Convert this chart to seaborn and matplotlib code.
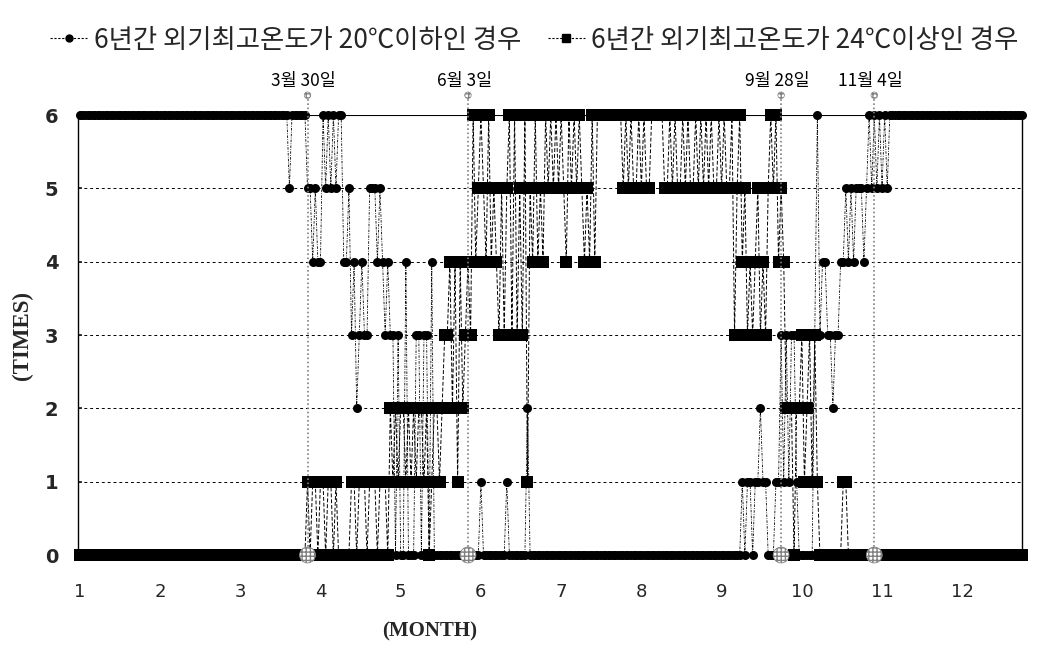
import matplotlib
matplotlib.use('Agg')
import matplotlib.pyplot as plt
from matplotlib.lines import Line2D
import numpy as np
import pandas as pd
import seaborn as sns

# daily counts (out of 6 years), one string per calendar month
cold_months = [
    "6666666666666666666666666666666",            # 1
    "6666666666666666666666666666",               # 2
    "6666666666666666666666566666655",            # 3
    "454465656566445342343355545434",             # 4
    "3303004000330330400000000000000",            # 5
    "000010000000001000000020000000",             # 6
    "0000000000000000000000000000000",            # 7
    "0000000000000000000000000000000",            # 8
    "000000000000010110112110001131",             # 9
    "3133100000036344332334454545554",            # 10
    "565656565666666666666666666666",             # 11
    "6666666666666666666666666666666",            # 12
]
hot_months = [
    "0000000000000000000000000000000",
    "0000000000000000000000000000",
    "0000000000000000000000000000010",
    "110110110100000110111011101110",
    "2121221212122120122123342414234",
    "364565464543535636353615464546",
    "5656565465656545464666666666656",
    "5655656556666655656556565565656",
    "565565655635645343453435656454",
    "2220223123131000000000110000000",
    "000000000000000000000000000000",
    "0000000000000000000000000000000",
]

month_labels = [str(m) for m in range(1, 13)]
tick_days = [1, 32, 63, 94, 125, 156, 187, 218, 249, 280, 311, 342]
mark_labels = ['3월 30일', '6월 3일', '9월 28일', '11월 4일']
mark_days = [89, 151, 272, 308]
series_labels = ['6년간 외기최고온도가 20℃이하인 경우', '6년간 외기최고온도가 24℃이상인 경우']

cold = [int(c) for c in ''.join(cold_months)]
hot = [int(c) for c in ''.join(hot_months)]
days = np.arange(1, len(cold) + 1)
df = pd.DataFrame({'day': days, 'cold': cold, 'hot': hot})

sns.set_theme(style='white')
plt.rcParams['font.family'] = ['Noto Sans CJK KR', 'DejaVu Sans']

fig = plt.figure(figsize=(10.48, 6.48), dpi=100)
ax = fig.add_axes([0.0744, 0.1435, 0.9006, 0.679])

# grid
for y in range(1, 6):
    ax.axhline(y, color='black', lw=0.7, ls=(0, (3, 3)), zorder=0)
ax.axhline(6, color='black', lw=0.8, zorder=0)

sns.lineplot(data=df, x='day', y='hot', ax=ax, color='black', marker='s',
             markersize=8.5, markeredgewidth=0, lw=0.7, linestyle=(0, (4, 2)),
             estimator=None, clip_on=False, zorder=3, legend=False)
sns.lineplot(data=df, x='day', y='cold', ax=ax, color='black', marker='o',
             markersize=6.5, markeredgewidth=0, lw=0.6,
             linestyle=(0, (3, 1.5, 1, 1.5)), estimator=None, clip_on=False,
             zorder=4, legend=False)

# date markers
ax.vlines(mark_days, 0, 6.27, colors='gray', linestyles=(0, (1, 1.5)), lw=1.2, zorder=5, clip_on=False)
ax.scatter(mark_days, [0] * len(mark_days), s=130, facecolor='white', edgecolor='gray',
           hatch='++++', lw=0.6, zorder=6, clip_on=False)
ax.scatter(mark_days, [6.27] * len(mark_days), s=22, facecolor='white', edgecolor='gray',
           hatch='++++', lw=0.5, zorder=6, clip_on=False)
for d, lab in zip(mark_days, mark_labels):
    ax.text(d - 1.5, 6.47, lab, ha='center', va='center', fontsize=12.5, color='black')

ax.set_xlim(0.3, 365)
ax.set_ylim(0, 6)
ax.set_xticks(tick_days)
ax.set_xticklabels(month_labels, fontsize=13, family='DejaVu Sans')
ax.set_yticks(range(0, 7))
ax.set_yticklabels([str(v) for v in range(0, 7)], fontsize=14, fontweight='bold', family='DejaVu Sans')
ax.tick_params(axis='x', length=0, pad=20)
ax.tick_params(axis='y', length=3, direction='in', pad=14, left=True)
ax.set_xlabel('')
ax.set_ylabel('')
for side in ['top', 'bottom']:
    ax.spines[side].set_visible(False)
for side in ['left', 'right']:
    ax.spines[side].set_color('black')
    ax.spines[side].set_linewidth(1.0)

fig.text(0.41, 0.025, '(MONTH)', ha='center', va='center', fontsize=15,
         fontweight='bold', family='Liberation Serif')
fig.text(0.021, 0.483, '(TIMES)', ha='center', va='center', fontsize=16.5,
         fontweight='bold', family='Liberation Serif', rotation=90)

handles = [Line2D([], [], color='black', marker='o', markersize=5, lw=0.8, ls=(0, (2, 1.5))),
           Line2D([], [], color='black', marker='s', markersize=6, lw=0.8, ls=(0, (2, 1.5)))]
fig.legend(handles, series_labels, loc='center', bbox_to_anchor=(0.51, 0.938), ncol=2,
           frameon=False, fontsize=19, handlelength=1.4, handletextpad=0.25, columnspacing=1.0)

fig.savefig('out.png', dpi=100)
